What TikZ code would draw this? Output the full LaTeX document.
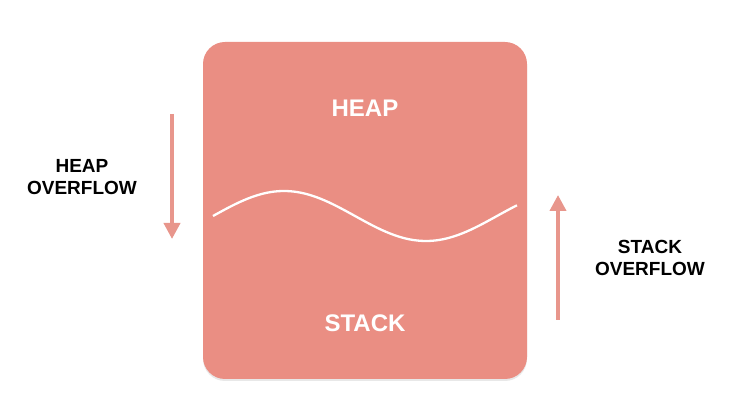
\documentclass[tikz,border=0pt]{standalone}
\usepackage{fontspec}
\setmainfont{Liberation Sans}
\usetikzlibrary{shapes, arrows.meta, shadows}
\definecolor{salmon}{HTML}{EA8E83}
\definecolor{arrowpink}{HTML}{E8968C}
\tikzstyle{memory} = [rectangle, rounded corners=22pt, minimum width=324pt, minimum height=337pt, fill=salmon, drop shadow={opacity=0.18, shadow xshift=0pt, shadow yshift=-2pt}]
\tikzstyle{region} = [text=white, font=\bfseries\fontsize{24}{28}\selectfont]
\tikzstyle{label} = [text=black, align=center, font=\bfseries\fontsize{19}{22.5}\selectfont]
\tikzstyle{edge} = [line width=3.8pt, draw=arrowpink, -{Triangle[width=16pt,length=16pt]}]

\begin{document}
\begin{tikzpicture}[x=1pt, y=-1pt]
\useasboundingbox (0,0) rectangle (734,419);

\node (box) [memory] at (365,210.5) {};
\node (heap) [region] at (365,108) {HEAP};
\node (stack) [region] at (365,323) {STACK};

% boundary between heap and stack
\draw [white, line width=2.3pt] plot[domain=213:517, samples=80, smooth] (\x, {216-25*sin(1.2676*(\x-213))});

\node (heapof) [label] at (82,177) {HEAP\\OVERFLOW};
\node (stackof) [label] at (650,258) {STACK\\OVERFLOW};

\coordinate (h1) at (172,114);
\coordinate (h2) at (172,239);
\coordinate (s1) at (558,320);
\coordinate (s2) at (558,195);

\draw [edge] (h1) -- (h2);
\draw [edge] (s1) -- (s2);

\end{tikzpicture}
\end{document}
